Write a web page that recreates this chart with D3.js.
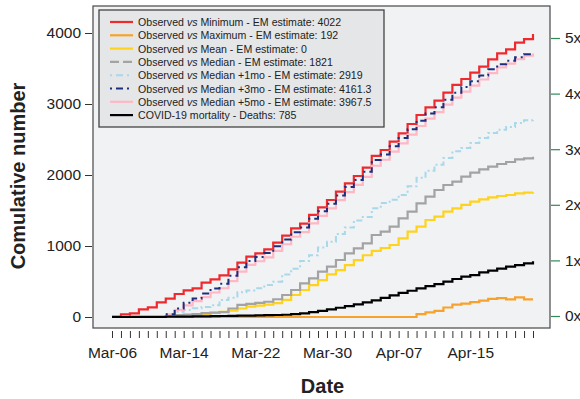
<!DOCTYPE html>
<html>
<head>
<meta charset="utf-8">
<script src="https://cdn.jsdelivr.net/npm/d3@7"></script>
<style>
  html, body { margin: 0; padding: 0; background: #ffffff; }
  svg { display: block; font-family: "Liberation Sans", Arial, sans-serif; }
</style>
</head>
<body>
<svg id="chart" width="580" height="399"></svg>
<script>
// Daily dates (categories on the x axis)
const days = [
  "2020-03-06","2020-03-07","2020-03-08","2020-03-09","2020-03-10","2020-03-11","2020-03-12","2020-03-13",
  "2020-03-14","2020-03-15","2020-03-16","2020-03-17","2020-03-18","2020-03-19","2020-03-20","2020-03-21",
  "2020-03-22","2020-03-23","2020-03-24","2020-03-25","2020-03-26","2020-03-27","2020-03-28","2020-03-29",
  "2020-03-30","2020-03-31","2020-04-01","2020-04-02","2020-04-03","2020-04-04","2020-04-05","2020-04-06",
  "2020-04-07","2020-04-08","2020-04-09","2020-04-10","2020-04-11","2020-04-12","2020-04-13","2020-04-14",
  "2020-04-15","2020-04-16","2020-04-17","2020-04-18","2020-04-19","2020-04-20","2020-04-21","2020-04-22"
];
const labelDays = ["2020-03-06","2020-03-14","2020-03-22","2020-03-30","2020-04-07","2020-04-15"];

// Cumulative excess counts, one array per baseline (first value = first date of the series)
const obsVsMinimum = [4, 38, 52, 108, 136, 207, 258, 324, 376, 404, 483, 531, 587, 672, 765, 850,
  897, 953, 1047, 1145, 1249, 1315, 1437, 1545, 1648, 1765, 1883, 1986, 2103, 2268, 2352, 2469,
  2587, 2718, 2845, 2953, 3047, 3160, 3268, 3352, 3441, 3526, 3629, 3714, 3770, 3864, 3915, 3986];
const obsVsMaximum = [0, 0, 0, 0, 0, 0, 0, 0, 0, 0, 0, 0, 0, 0, 0, 0,
  0, 0, 0, 0, 0, 0, 0, 0, 0, 0, 0, 0, 0, 0, 0, 0,
  0, 0, 40, 66, 85, 134, 174, 188, 209, 232, 254, 265, 248, 277, 249, 249];
const obsVsMean = [10, 18, 25, 35, 45, 58, 72, 90, 120, 145, 160, 175, 195, 240, 310, 380,
  450, 520, 600, 660, 730, 800, 870, 930, 972, 1014, 1108, 1202, 1272, 1366, 1413, 1484,
  1531, 1578, 1624, 1657, 1685, 1704, 1718, 1742, 1751, 1756];
const obsVsMedian = [20, 28, 35, 40, 55, 62, 70, 120, 170, 185, 200, 215, 250, 310, 380, 474,
  545, 639, 709, 803, 897, 967, 1038, 1155, 1202, 1272, 1390, 1484, 1601, 1695, 1789, 1859,
  1906, 1977, 2033, 2080, 2117, 2155, 2183, 2221, 2235, 2258];
const obsVsMedian1mo = [30, 75, 100, 122, 140, 165, 239, 272, 350, 375, 404, 450, 498, 600, 680, 790,
  870, 980, 1060, 1170, 1260, 1360, 1410, 1530, 1606, 1650, 1720, 1840, 1960, 2060, 2146, 2240,
  2334, 2380, 2451, 2521, 2592, 2638, 2676, 2732, 2770, 2789];
const obsVsMedian3mo = [40, 120, 200, 260, 330, 400, 470, 580, 700, 790, 845, 900, 995, 1090, 1195, 1260,
  1385, 1490, 1595, 1710, 1830, 1930, 2045, 2210, 2290, 2405, 2520, 2645, 2765, 2865, 2955, 3060,
  3160, 3240, 3320, 3400, 3490, 3560, 3610, 3660, 3700, 3722];
const obsVsMedian5mo = [38, 100, 165, 225, 280, 345, 405, 505, 640, 735, 785, 840, 930, 1025, 1130, 1195,
  1320, 1425, 1530, 1645, 1760, 1860, 1975, 2130, 2215, 2330, 2445, 2570, 2690, 2795, 2885, 2990,
  3090, 3175, 3260, 3345, 3435, 3515, 3570, 3630, 3680, 3712];
const covidDeaths = [0, 0, 1, 1, 2, 3, 4, 5, 6, 8, 10, 12, 14, 16, 18, 20,
  23, 26, 28, 32, 40, 52, 68, 86, 108, 130, 153, 178, 205, 234, 268, 305,
  340, 370, 403, 436, 464, 497, 535, 568, 591, 629, 652, 681, 709, 732, 756, 785];

// Legend texts and the series they describe
const legendLabels = [
  ["Observed ", "vs", " Minimum - EM estimate: 4022"],
  ["Observed ", "vs", " Maximum - EM estimate: 192"],
  ["Observed ", "vs", " Mean - EM estimate: 0"],
  ["Observed ", "vs", " Median - EM estimate: 1821"],
  ["Observed ", "vs", " Median +1mo - EM estimate: 2919"],
  ["Observed ", "vs", " Median +3mo - EM estimate: 4161.3"],
  ["Observed ", "vs", " Median +5mo - EM estimate: 3967.5"],
  ["COVID-19 mortality - Deaths: 785"]
];
const leftTicks = [0, 1000, 2000, 3000, 4000];
const rightTicks = [0, 1, 2, 3, 4, 5];

const parse = d3.timeParse("%Y-%m-%d");
const dates = days.map(parse);

const series = [
  { name: "min",   values: obsVsMinimum,   start: 0, color: "#ee2a2e", width: 2.2, dash: null,        legendDash: null },
  { name: "max",   values: obsVsMaximum,   start: 0, color: "#f7a22c", width: 2.2, dash: null,        legendDash: null },
  { name: "mean",  values: obsVsMean,      start: 6, color: "#ffd21c", width: 2.2, dash: null,        legendDash: null },
  { name: "med",   values: obsVsMedian,    start: 6, color: "#a3a3a3", width: 2.2, dash: null,        legendDash: "9,4" },
  { name: "med1",  values: obsVsMedian1mo, start: 6, color: "#a8d8ea", width: 2,   dash: "2,3,6,3",   legendDash: "2,4,7,4" },
  { name: "med5",  values: obsVsMedian5mo, start: 6, color: "#ffb7c3", width: 2.2, dash: null,        legendDash: null },
  { name: "med3",  values: obsVsMedian3mo, start: 6, color: "#1d2f7c", width: 2,   dash: "2,4,7,4",   legendDash: "2,4,7,4" },
  { name: "death", values: covidDeaths,    start: 0, color: "#000000", width: 2.2, dash: null,        legendDash: null }
];
const legendOrder = ["min", "max", "mean", "med", "med1", "med3", "med5", "death"];

const svg = d3.select("#chart");

// Plot frame
const frame = { left: 93, right: 550, top: 6, bottom: 328 };

const x = d3.scaleTime()
  .domain([dates[0], dates[dates.length - 1]])
  .range([112, 533]);
const y = d3.scaleLinear().domain([0, 4000]).range([317, 33]);
const yRight = d3.scaleLinear().domain([0, 5]).range([316, 38]);

svg.append("rect")
  .attr("x", frame.left).attr("y", frame.top)
  .attr("width", frame.right - frame.left).attr("height", frame.bottom - frame.top)
  .attr("fill", "#f1f2f4");

// Series as step lines
const line = d3.line()
  .x(d => x(d.date))
  .y(d => y(d.value))
  .curve(d3.curveStepAfter);

const gLines = svg.append("g");
series.forEach(s => {
  const pts = s.values.map((v, i) => ({ date: dates[s.start + i], value: v }));
  gLines.append("path")
    .datum(pts)
    .attr("d", line)
    .attr("fill", "none")
    .attr("stroke", s.color)
    .attr("stroke-width", s.width)
    .attr("stroke-linejoin", "miter")
    .attr("stroke-dasharray", s.dash);
});

// Frame border
svg.append("rect")
  .attr("x", frame.left).attr("y", frame.top)
  .attr("width", frame.right - frame.left).attr("height", frame.bottom - frame.top)
  .attr("fill", "none")
  .attr("stroke", "#555")
  .attr("stroke-width", 1.3);

// Left axis
const gLeft = svg.append("g")
  .attr("transform", `translate(${frame.left - 1},0)`)
  .call(d3.axisLeft(y).tickValues(leftTicks).tickSize(7).tickPadding(4).tickFormat(d3.format("d")));
gLeft.select(".domain").remove();
gLeft.selectAll("line").attr("stroke", "#333");
gLeft.selectAll("text").attr("font-size", 15.5).attr("fill", "#222").attr("font-family", "Liberation Sans, Arial, sans-serif");

// Right axis
const gRight = svg.append("g")
  .attr("transform", `translate(${frame.right + 1},0)`)
  .call(d3.axisRight(yRight).tickValues(rightTicks).tickSize(9).tickPadding(5).tickFormat(d => d + "x"));
gRight.select(".domain").remove();
gRight.selectAll("line").attr("stroke", "#2f8a56").attr("stroke-width", 1.2);
gRight.selectAll("text").attr("font-size", 15.5).attr("fill", "#222").attr("font-family", "Liberation Sans, Arial, sans-serif");

// Bottom axis: one tick per day, a label every eight days
const labelSet = new Set(labelDays);
const fmt = d3.timeFormat("%b-%d");
const gBottom = svg.append("g")
  .attr("transform", `translate(0,${frame.bottom + 3})`)
  .call(d3.axisBottom(x).tickValues(dates).tickSize(7).tickPadding(9)
    .tickFormat((d, i) => labelSet.has(days[i]) ? fmt(d) : ""));
gBottom.select(".domain").remove();
gBottom.selectAll("line").attr("stroke", "#333");
gBottom.selectAll("text").attr("font-size", 15.5).attr("fill", "#222").attr("font-family", "Liberation Sans, Arial, sans-serif");

// Axis titles
svg.append("text")
  .attr("x", (frame.left + frame.right) / 2 + 1).attr("y", 393)
  .attr("text-anchor", "middle")
  .attr("font-size", 20).attr("font-weight", "bold").attr("fill", "#222")
  .text("Date");
svg.append("text")
  .attr("transform", "translate(25,176) rotate(-90)")
  .attr("text-anchor", "middle")
  .attr("font-size", 20).attr("font-weight", "bold").attr("fill", "#222")
  .text("Comulative number");

// Legend
const lg = svg.append("g");
lg.append("rect")
  .attr("x", 99).attr("y", 10).attr("width", 285).attr("height", 117)
  .attr("fill", "#e5e6e8").attr("stroke", "#444").attr("stroke-width", 1.3);
legendOrder.forEach((key, i) => {
  const s = series.find(d => d.name === key);
  const cy = 22 + i * 13.3;
  lg.append("line")
    .attr("x1", 110).attr("x2", 133).attr("y1", cy).attr("y2", cy)
    .attr("stroke", s.color).attr("stroke-width", s.width)
    .attr("stroke-dasharray", s.legendDash);
  const t = lg.append("text")
    .attr("x", 138).attr("y", cy + 4)
    .attr("font-size", 10.6).attr("fill", "#222");
  const parts = legendLabels[i];
  parts.forEach((p, j) => {
    t.append("tspan").attr("font-style", (parts.length === 3 && j === 1) ? "italic" : null).text(p);
  });
});
</script>
</body>
</html>
